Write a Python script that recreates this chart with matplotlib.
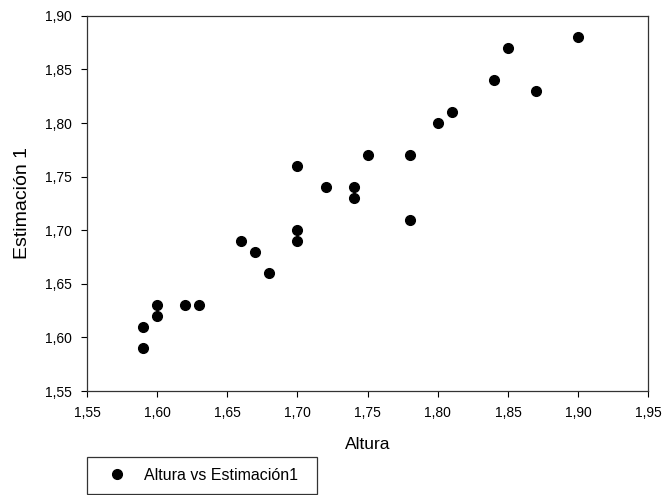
import matplotlib
matplotlib.use("Agg")
from matplotlib import pyplot as plt

plt.rcParams['font.family'] = ['Liberation Sans', 'DejaVu Sans']

altura = [1.59, 1.59, 1.60, 1.60, 1.62, 1.63, 1.66, 1.67, 1.68, 1.70, 1.70, 1.70,
          1.72, 1.74, 1.74, 1.75, 1.78, 1.78, 1.80, 1.81, 1.84, 1.85, 1.87, 1.90]
estimacion = [1.61, 1.59, 1.63, 1.62, 1.63, 1.63, 1.69, 1.68, 1.66, 1.76, 1.70, 1.69,
              1.74, 1.74, 1.73, 1.77, 1.77, 1.71, 1.80, 1.81, 1.84, 1.87, 1.83, 1.88]
ticks = [1.55, 1.60, 1.65, 1.70, 1.75, 1.80, 1.85, 1.90, 1.95]

fig = plt.figure(figsize=(6.69, 4.95), dpi=100)
ax = fig.add_axes([0.130, 0.210, 0.839, 0.758])

ax.plot(altura, estimacion, 'o', color='black', markersize=7, linestyle='none',
        label='Altura vs Estimación1')

ax.set_xlim(1.55, 1.95)
ax.set_ylim(1.55, 1.90)
ax.set_xticks(ticks)
ax.set_yticks(ticks[:-1])
fmt = lambda v: f"{v:.2f}".replace('.', ',')
ax.set_xticklabels([fmt(t) for t in ticks])
ax.set_yticklabels([fmt(t) for t in ticks[:-1]])
ax.tick_params(direction='out', length=4, width=0.8, labelsize=10, pad=7)

for s in ax.spines.values():
    s.set_linewidth(0.9)
    s.set_color('#333333')

ax.set_xlabel('Altura', fontsize=12.5, labelpad=12)
ax.set_ylabel('Estimación 1', fontsize=14, labelpad=10)

leg = ax.legend(loc='lower left', bbox_to_anchor=(0.130, 0.002, 0.344, 0.077),
                bbox_transform=fig.transFigure, mode='expand', fontsize=11.5,
                frameon=True, fancybox=False, edgecolor='black', borderpad=0.7,
                handletextpad=0.45, handlelength=2.4, borderaxespad=0)
leg.get_frame().set_linewidth(0.9)

fig.savefig('out.png', dpi=100)
